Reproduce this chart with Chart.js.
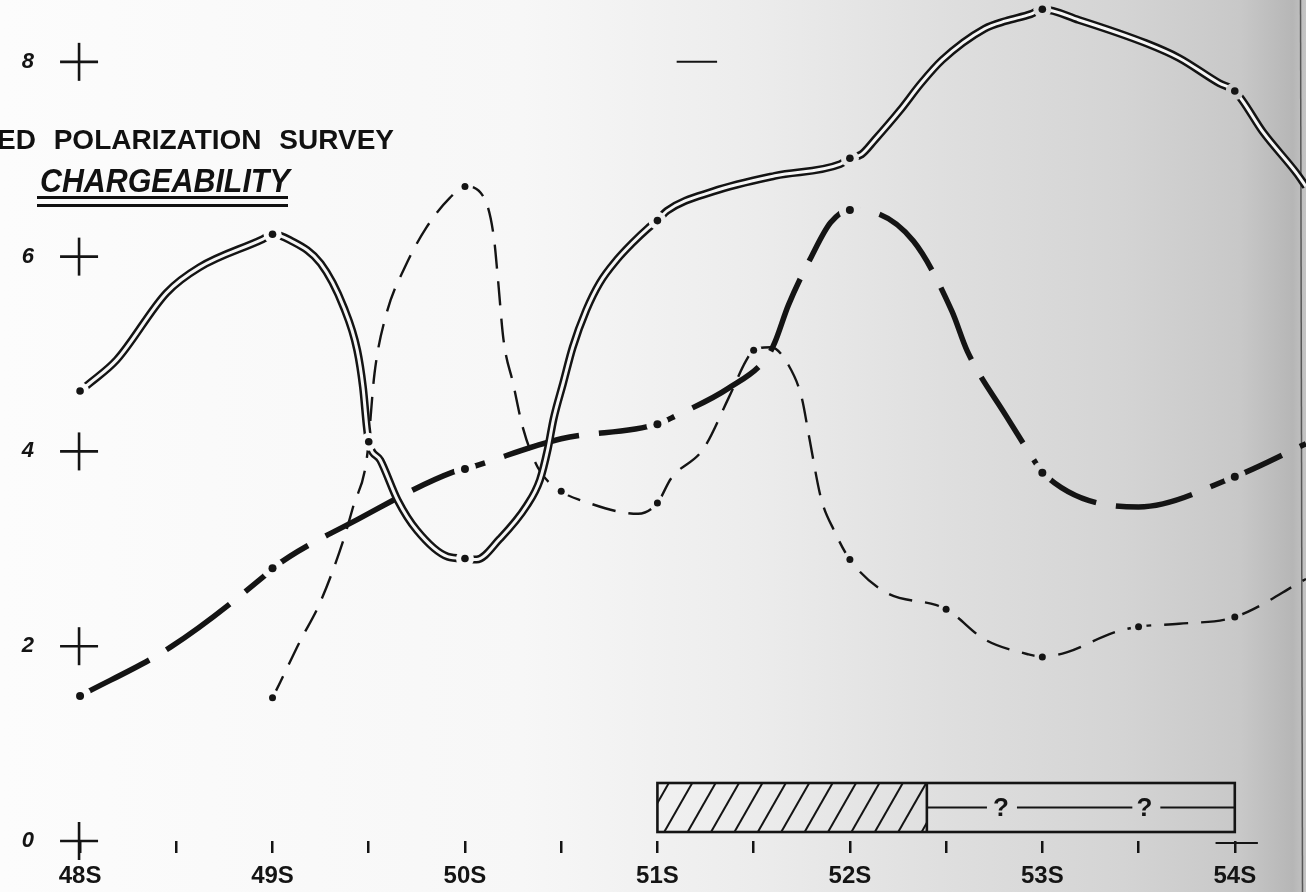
<!DOCTYPE html>
<html>
<head>
<meta charset="utf-8">
<title>Induced polarization survey - chargeability</title>
<script src="https://cdn.jsdelivr.net/npm/chart.js@4.4.0/dist/chart.umd.min.js"></script>
<style>
  html, body { margin: 0; padding: 0; overflow: hidden; background: #fff; }
  #sheet {
    position: relative; width: 1306px; height: 892px;
    background: linear-gradient(to right, #fcfcfc 0%, #f7f7f7 40%, #ececec 58%, #dfdfdf 72%, #d4d4d4 86%, #c8c8c8 95%, #b6b6b6 99%, #c4c4c4 100%);
  }
  #chart { position: absolute; left: 0; top: 0; }
  .title { position: absolute; font-family: 'Liberation Sans', Arial, sans-serif; font-weight: bold; color: #111; line-height: 1; white-space: nowrap; }
  #t1 { left: -3px; top: 126px; font-size: 28px; word-spacing: 10px; }
  #t2 { left: 40px; top: 164px; font-size: 33px; font-style: italic; transform: scaleX(0.92); transform-origin: left top; }
  #rule { position: absolute; left: 37px; top: 196px; width: 251px; height: 4.5px; border-top: 3px solid #111; border-bottom: 3px solid #111; }
</style>
</head>
<body>
<div id="sheet">
  <canvas id="chart" width="1306" height="892"></canvas>
  <div class="title" id="t1">ED POLARIZATION SURVEY</div>
  <div class="title" id="t2">CHARGEABILITY</div>
  <div id="rule"></div>
</div>
<script>
var stationValues = [48, 49, 50, 51, 52, 53, 54];
var stationLabels = ['48S', '49S', '50S', '51S', '52S', '53S', '54S'];
var yTickValues = [0, 2, 4, 6, 8];

// readings with a dot on the sheet: [station, chargeability]
var doubleReadings = [[48, 4.62], [49, 6.23], [49.5, 4.10], [50, 2.90], [51, 6.37], [52, 7.01], [53, 8.54], [54, 7.70]];
// points read along the drawn curve between readings
var doubleCurve = [
    [48.05, 4.70], [48.19, 4.94], [48.45, 5.63], [48.62, 5.89], [48.95, 6.18],
    [49.09, 6.17], [49.25, 5.93], [49.37, 5.48], [49.44, 5.04], [49.47, 4.66], [49.49, 4.25],
    [49.56, 3.91], [49.65, 3.50], [49.75, 3.19], [49.91, 2.92],
    [50.06, 2.89], [50.18, 3.10], [50.32, 3.44], [50.39, 3.71], [50.43, 4.02], [50.46, 4.33],
    [50.51, 4.70], [50.56, 5.07], [50.63, 5.45], [50.70, 5.73], [50.79, 5.97], [50.87, 6.14], [50.95, 6.29],
    [51.05, 6.47], [51.29, 6.67], [51.61, 6.83], [51.95, 6.95],
    [52.06, 7.05], [52.13, 7.20], [52.26, 7.50], [52.37, 7.78], [52.48, 8.02], [52.70, 8.34], [52.81, 8.42], [52.94, 8.49],
    [53.19, 8.43], [53.54, 8.19], [53.71, 8.04], [53.92, 7.78],
    [54.15, 7.27], [54.32, 6.86], [54.37, 6.72]
];

var dashDotReadings = [[48, 1.49], [49, 2.80], [50, 3.82], [51, 4.28], [52, 6.48], [53, 3.78], [54, 3.74]];
var dashDotCurve = [
    [48.47, 1.99], [48.95, 2.71], [49.45, 3.31], [49.94, 3.79], [50.5, 4.13],
    [51.1, 4.37], [51.37, 4.65], [51.57, 4.97], [51.61, 5.12], [51.68, 5.50], [51.8, 6.00], [51.9, 6.35],
    [52.09, 6.47], [52.33, 6.16], [52.53, 5.44], [52.61, 5.03], [52.81, 4.37], [52.96, 3.90],
    [53.5, 3.43], [54.37, 4.08]
];

var dashedReadings = [[49, 1.47], [50, 6.72], [50.5, 3.59], [51, 3.47], [51.5, 5.04], [52, 2.89], [52.5, 2.38], [53, 1.89], [53.5, 2.20], [54, 2.30]];
var dashedCurve = [
    [49.04, 1.63], [49.14, 2.04], [49.25, 2.46], [49.37, 3.10], [49.42, 3.44], [49.49, 3.93],
    [49.53, 4.80], [49.59, 5.40], [49.69, 5.90], [49.80, 6.30], [49.92, 6.60],
    [50.1, 6.60], [50.15, 6.20], [50.17, 5.80], [50.2, 5.15], [50.25, 4.70], [50.3, 4.25], [50.38, 3.83],
    [50.6, 3.50], [50.9, 3.36],
    [51.07, 3.72], [51.24, 4.03], [51.37, 4.55], [51.46, 4.93],
    [51.59, 5.07], [51.68, 4.89], [51.75, 4.55], [51.79, 4.13], [51.85, 3.52], [51.92, 3.18],
    [52.18, 2.56], [52.7, 2.07], [52.92, 1.92], [53.13, 1.94], [53.37, 2.14], [53.71, 2.23], [54.37, 2.69]
];

function toPoints(readings, curve) {
    return readings.concat(curve || []).map(function (p) {
        return {x: p[0], y: p[1]};
    }).sort(function (a, b) { return a.x - b.x; });
}

var ink = '#141414';

var datasets = [
    {label: 'Dashed', data: toPoints(dashedReadings, dashedCurve), borderColor: ink, borderWidth: 2.4, borderDash: [24, 13], order: 90},
    {label: 'Dashed gaps', data: toPoints(dashedReadings), showLine: false, pointRadius: 8, erase: true, order: 85},
    {label: 'Dash-dot', data: toPoints(dashDotReadings, dashDotCurve), borderColor: ink, borderWidth: 5.5, borderDash: [78, 20], order: 80},
    {label: 'Dash-dot gaps', data: toPoints(dashDotReadings), showLine: false, pointRadius: 11, erase: true, order: 75},
    {label: 'Double', data: toPoints(doubleReadings, doubleCurve), borderColor: ink, borderWidth: 8, order: 70},
    {label: 'Double core', data: toPoints(doubleReadings, doubleCurve), borderColor: '#f6f6f6', borderWidth: 3, order: 65},
    {label: 'Double gaps', data: toPoints(doubleReadings), showLine: false, pointRadius: 9, erase: true, order: 60},
    {label: 'Double dots', data: toPoints(doubleReadings), showLine: false, pointRadius: 3.8, pointBackgroundColor: ink, order: 10},
    {label: 'Dash-dot dots', data: toPoints(dashDotReadings), showLine: false, pointRadius: 4, pointBackgroundColor: ink, order: 10},
    {label: 'Dashed dots', data: toPoints(dashedReadings), showLine: false, pointRadius: 3.5, pointBackgroundColor: ink, order: 10}
];

// halo points punch a hole in the lines around each reading
var eraser = {
    id: 'eraser',
    beforeDatasetDraw: function (chart, args) {
        if (chart.data.datasets[args.index].erase) {
            chart.ctx.globalCompositeOperation = 'destination-out';
        }
    },
    afterDatasetDraw: function (chart) {
        chart.ctx.globalCompositeOperation = 'source-over';
    }
};

function seg(ctx, x1, y1, x2, y2) {
    ctx.beginPath();
    ctx.moveTo(x1, y1);
    ctx.lineTo(x2, y2);
    ctx.stroke();
}

var decor = {
    id: 'decor',
    beforeDatasetsDraw: function (chart) {
        var ctx = chart.ctx, x = chart.scales.x, y = chart.scales.y;
        ctx.save();
        ctx.strokeStyle = ink;
        ctx.lineCap = 'butt';

        // crosses on the chargeability scale
        ctx.lineWidth = 2.6;
        var cx = x.getPixelForValue(48) - 1;
        yTickValues.forEach(function (v) {
            var cy = y.getPixelForValue(v);
            seg(ctx, cx - 19, cy, cx + 19, cy);
            seg(ctx, cx, cy - 19, cx, cy + 19);
        });

        // stray marks on the sheet
        ctx.lineWidth = 2;
        seg(ctx, x.getPixelForValue(51.1), y.getPixelForValue(8), x.getPixelForValue(51.31), y.getPixelForValue(8));
        seg(ctx, x.getPixelForValue(53.9), y.getPixelForValue(0) + 2, x.getPixelForValue(54.12), y.getPixelForValue(0) + 2);

        // geology strip along the bottom
        var bx0 = x.getPixelForValue(51), bx1 = x.getPixelForValue(52.4), bx2 = x.getPixelForValue(54);
        var by0 = y.getPixelForValue(0) - 58, by1 = y.getPixelForValue(0) - 9, bym = (by0 + by1) / 2;
        ctx.save();
        ctx.beginPath();
        ctx.rect(bx0, by0, bx1 - bx0, by1 - by0);
        ctx.clip();
        ctx.lineWidth = 2;
        for (var hx = bx0 - 40; hx < bx1 + 40; hx += 23.4) {
            seg(ctx, hx, by1, hx + 28, by0);
        }
        ctx.restore();
        ctx.lineWidth = 2.6;
        ctx.strokeRect(bx0, by0, bx2 - bx0, by1 - by0);
        seg(ctx, bx1, by0, bx1, by1);
        ctx.lineWidth = 2;
        var q1 = x.getPixelForValue(52.785), q2 = x.getPixelForValue(53.53);
        seg(ctx, bx1, bym, q1 - 14, bym);
        seg(ctx, q1 + 16, bym, q2 - 12, bym);
        seg(ctx, q2 + 16, bym, bx2, bym);
        ctx.fillStyle = ink;
        ctx.font = 'bold 26px "Liberation Sans", sans-serif';
        ctx.textAlign = 'center';
        ctx.textBaseline = 'middle';
        ctx.fillText('?', q1, bym + 1);
        ctx.fillText('?', q2, bym + 1);

        // edge of the paper
        ctx.strokeStyle = 'rgba(60,60,60,0.8)';
        ctx.lineWidth = 1.5;
        seg(ctx, 1300.5, 0, 1302.5, chart.height);
        ctx.restore();
    }
};

// keep the plot area fixed to the sheet: no automatic label padding
function fixPadding(scale) {
    scale.paddingTop = 0;
    scale.paddingBottom = 0;
    scale.paddingLeft = 0;
    scale.paddingRight = 0;
}

var ctxChart = document.getElementById('chart');

var myChart = new Chart(ctxChart, {
    type: 'line',
    data: {datasets: datasets},
    plugins: [decor, eraser],
    options: {
        responsive: false,
        animation: false,
        events: [],
        layout: {padding: 0, autoPadding: false},
        datasets: {
            line: {
                fill: false,
                pointRadius: 0,
                pointBorderWidth: 0,
                pointBackgroundColor: '#000',
                cubicInterpolationMode: 'monotone',
                borderCapStyle: 'butt',
                borderJoinStyle: 'round'
            }
        },
        plugins: {
            legend: {display: false},
            tooltip: {enabled: false},
            title: {display: false}
        },
        scales: {
            x: {
                type: 'linear',
                min: 47.875,
                max: 54.37,
                afterFit: function (scale) { scale.height = 51; fixPadding(scale); },
                border: {display: false},
                grid: {
                    drawOnChartArea: false,
                    drawTicks: true,
                    tickLength: 12,
                    color: ink,
                    lineWidth: 2.5
                },
                ticks: {
                    stepSize: 0.5,
                    includeBounds: false,
                    autoSkip: false,
                    maxRotation: 0,
                    padding: 9,
                    color: ink,
                    font: {family: "'Liberation Sans', Arial, sans-serif", weight: 'bold', size: 24},
                    callback: function (v) {
                        var i = stationValues.indexOf(v);
                        if (i >= 0) return stationLabels[i];
                        if (Math.abs(v * 2 - Math.round(v * 2)) < 1e-6) return '';
                        return null;
                    }
                }
            },
            y: {
                type: 'linear',
                min: 0,
                max: 8.635,
                afterFit: function (scale) { scale.width = 56; fixPadding(scale); },
                border: {display: false},
                grid: {display: false, drawTicks: false},
                ticks: {
                    stepSize: 2,
                    includeBounds: false,
                    padding: 22,
                    color: ink,
                    font: {family: "'Liberation Sans', Arial, sans-serif", weight: 'bold', style: 'italic', size: 22},
                    callback: function (v) {
                        return yTickValues.indexOf(v) >= 0 ? String(v) : null;
                    }
                }
            }
        }
    }
});
</script>
</body>
</html>
